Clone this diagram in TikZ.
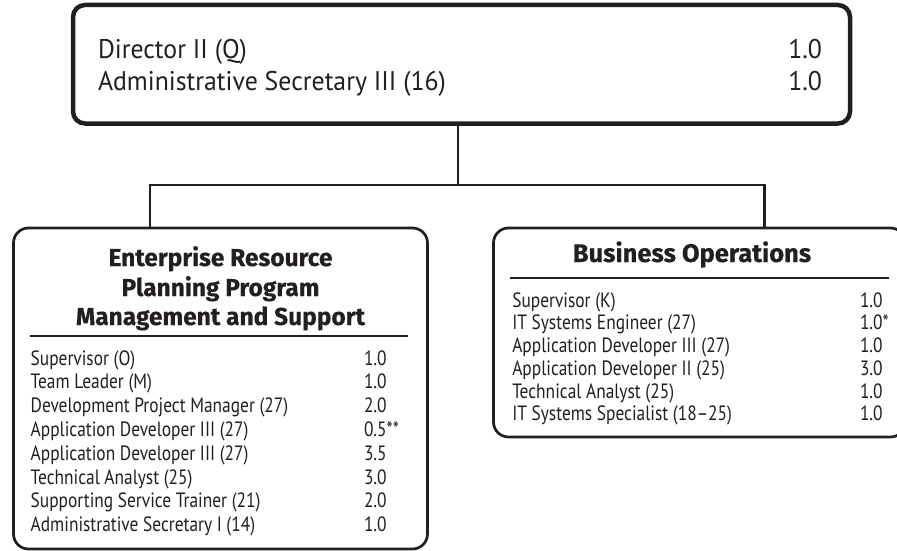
\documentclass[tikz,border=0pt]{standalone}
\usepackage{fontspec}
\setmainfont{PT Sans}
\newfontfamily\bodyfont[FakeStretch=0.84,Ligatures=TeX]{PT Sans}
\newfontfamily\topfont[FakeStretch=0.955,Ligatures=TeX]{PT Sans}
\newfontfamily\headfont[Ligatures=TeX,FakeBold=0.4]{Fira Sans Bold}
\definecolor{ink}{HTML}{231F20}
\begin{document}
\begin{tikzpicture}[x=1pt,y=-1pt,
  every node/.style={inner sep=0pt, outer sep=0pt, text=ink},
  topbox/.style={draw=ink, line width=4.5pt, rounded corners=12pt},
  unitbox/.style={draw=ink, line width=2.7pt, rounded corners=15pt},
  conn/.style={draw=ink, line width=2.2pt},
  rule/.style={draw=ink, line width=1.2pt},
  toptxt/.style={font=\topfont\fontsize{27}{32}\selectfont},
  bodytxt/.style={font=\bodyfont\fontsize{20.7}{24}\selectfont, anchor=base west},
  headtxt/.style={font=\headfont\fontsize{24.5}{29}\selectfont, anchor=base},
  headtxtb/.style={font=\headfont\fontsize{25.5}{29}\selectfont, anchor=base}
]
\useasboundingbox (0,0) rectangle (897,551);
\clip (0,0) rectangle (897,551);
\fill[white] (0,0) rectangle (897,551);

% boxes
\node[topbox, anchor=north west, minimum width=777pt, minimum height=118.5pt] (top) at (73,5) {};
\node[unitbox, anchor=north west, minimum width=414pt, minimum height=321pt] (erp) at (13.5,228) {};
\node[unitbox, anchor=north west, minimum width=412pt, minimum height=209pt] (bus) at (493.5,228) {};

% connectors
\coordinate (jn) at (458,185);
\coordinate (jl) at (150,185);
\coordinate (jr) at (764.5,185);
\draw[conn] (jn |- top.south) -- (jn);
\draw[conn] (jl |- erp.north) -- (jl) -- (jr) -- (jr |- bus.north);

% top box text
\node[toptxt, anchor=base west] (t1) at (98,59) {Director II (Q)};
\node[toptxt, anchor=base west] (t2) at (98,91) {Administrative Secretary III (16)};
\node[toptxt, anchor=base east] (t1n) at (822,59) {1.0};
\node[toptxt, anchor=base east] (t2n) at (822,91) {1.0};

% ERP box
\node[headtxt] (eh1) at (220.5,266) {Enterprise Resource};
\node[headtxt] (eh2) at (220.5,296) {Planning Program};
\node[headtxt] (eh3) at (220.5,325) {Management and Support};
\coordinate (eul) at (30,336);
\coordinate (eur) at (408,336);
\draw[rule] (eul) -- (eur);
\foreach \i/\t/\n in {0/Supervisor (O)/1.0, 1/Team Leader (M)/1.0, 2/Development Project Manager (27)/2.0, 3/Application Developer III (27)/0.5**, 4/Application Developer III (27)/3.5, 5/Technical Analyst (25)/3.0, 6/Supporting Service Trainer (21)/2.0, 7/Administrative Secretary I (14)/1.0}{
  \node[bodytxt] (er\i) at (30.7,{365+23.8*\i}) {\t};
  \node[bodytxt] (en\i) at (364,{365+23.8*\i}) {\n};
}

% Business Operations box
\node[headtxtb] (bh) at (692,262) {Business Operations};
\coordinate (bul) at (510,278);
\coordinate (bur) at (889,278);
\draw[rule] (bul) -- (bur);
\foreach \i/\t/\n in {0/Supervisor (K)/1.0, 1/IT Systems Engineer (27)/1.0*, 2/Application Developer III (27)/1.0, 3/Application Developer II (25)/3.0, 4/Technical Analyst (25)/1.0, 5/IT Systems Specialist (18–25)/1.0}{
  \node[bodytxt] (br\i) at (512.3,{307+22.75*\i}) {\t};
  \node[bodytxt] (bn\i) at (860,{307+22.75*\i}) {\n};
}
\end{tikzpicture}
\end{document}
